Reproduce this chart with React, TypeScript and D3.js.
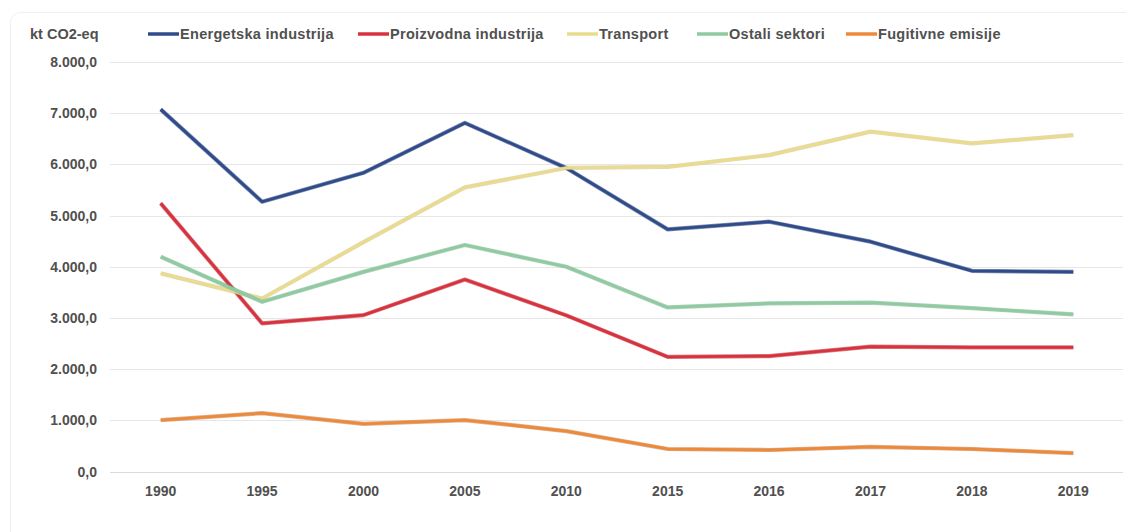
import React, { useRef, useEffect } from 'react';
import * as d3 from 'd3';

const years = ['1990', '1995', '2000', '2005', '2010', '2015', '2016', '2017', '2018', '2019'];

const energetska = [7075, 5270, 5835, 6810, 5930, 4730, 4880, 4490, 3920, 3900];
const proizvodna = [5240, 2895, 3055, 3750, 3050, 2240, 2255, 2440, 2425, 2425];
const transport = [3870, 3380, 4480, 5550, 5930, 5950, 6180, 6640, 6410, 6570];
const ostali = [4195, 3315, 3900, 4425, 4000, 3205, 3285, 3300, 3190, 3070];
const fugitivne = [1005, 1140, 930, 1005, 790, 440, 420, 480, 440, 360];

const seriesNames = ['Energetska industrija', 'Proizvodna industrija', 'Transport', 'Ostali sektori', 'Fugitivne emisije'];
const yTicks = [0, 1000, 2000, 3000, 4000, 5000, 6000, 7000, 8000];
const unitLabel = 'kt CO2-eq';

const colors = ['#2f4b8a', '#d8323f', '#e9dc8e', '#8fcaa2', '#ec8a3c'];
const edgeColors = ['#27407a', '#c02a36', '#d4c07e', '#78b48c', '#c97c45'];

const W = 1126;
const H = 532;

const fmt = (v: number) => {
  const s = d3.format(',.1f')(v);
  return s.replace(/,/g, '#').replace('.', ',').replace(/#/g, '.');
};

const App: React.FC = () => {
  const svgRef = useRef<SVGSVGElement | null>(null);

  useEffect(() => {
    document.body.style.margin = '0';
    if (!svgRef.current) return;
    const svg = d3.select(svgRef.current);
    svg.selectAll('*').remove();

    const font = '"Liberation Sans", Arial, sans-serif';
    const textFill = '#505050';

    // card
    svg.append('rect')
      .attr('x', 10.5).attr('y', 12.5)
      .attr('width', 1140).attr('height', 540)
      .attr('rx', 10)
      .attr('fill', '#fff')
      .attr('stroke', '#eef0f0');

    const x = d3.scaleBand().domain(years).range([110, 1124]).padding(0);
    const y = d3.scaleLinear().domain([0, 8000]).range([471.5, 62]);

    // grid
    svg.append('g').selectAll('line')
      .data(yTicks)
      .enter()
      .append('line')
      .attr('x1', 110).attr('x2', 1123)
      .attr('y1', d => Math.round(y(d)) + 0.5)
      .attr('y2', d => Math.round(y(d)) + 0.5)
      .attr('stroke', d => (d === 0 ? '#dcdcdc' : '#e6e6e6'))
      .attr('stroke-width', 1);

    // y labels
    svg.append('g').selectAll('text')
      .data(yTicks)
      .enter()
      .append('text')
      .attr('x', 97)
      .attr('y', d => y(d) + 5)
      .attr('text-anchor', 'end')
      .attr('font-family', font)
      .attr('font-size', 14)
      .attr('font-weight', 600)
      .attr('fill', textFill)
      .text(d => fmt(d));

    // x labels
    svg.append('g').selectAll('text')
      .data(years)
      .enter()
      .append('text')
      .attr('x', d => (x(d) || 0) + x.bandwidth() / 2)
      .attr('y', 496)
      .attr('text-anchor', 'middle')
      .attr('font-family', font)
      .attr('font-size', 14)
      .attr('font-weight', 600)
      .attr('fill', textFill)
      .text(d => d);

    const allSeries = [energetska, proizvodna, transport, ostali, fugitivne];

    const line = d3.line<number>()
      .x((_, i) => (x(years[i]) || 0) + x.bandwidth() / 2)
      .y(d => y(d));

    allSeries.forEach((vals, i) => {
      svg.append('path')
        .datum(vals)
        .attr('d', line)
        .attr('fill', 'none')
        .attr('stroke', edgeColors[i])
        .attr('stroke-width', 4.2)
        .attr('stroke-opacity', 0.6)
        .attr('stroke-linejoin', 'round');
      svg.append('path')
        .datum(vals)
        .attr('d', line)
        .attr('fill', 'none')
        .attr('stroke', colors[i])
        .attr('stroke-width', 2.8)
        .attr('stroke-linejoin', 'round');
    });

    // unit label
    svg.append('text')
      .attr('x', 30).attr('y', 39)
      .attr('font-family', font)
      .attr('font-size', 14.5)
      .attr('font-weight', 600)
      .attr('fill', textFill)
      .text(unitLabel);

    // legend
    const legendX = [148, 358, 567, 697, 846];
    const lg = svg.append('g').selectAll('g')
      .data(seriesNames)
      .enter()
      .append('g')
      .attr('transform', (_, i) => `translate(${legendX[i]},34)`);
    lg.append('line')
      .attr('x1', 0).attr('x2', 31)
      .attr('y1', 0).attr('y2', 0)
      .attr('stroke', (_, i) => colors[i])
      .attr('stroke-width', 3.5);
    lg.append('text')
      .attr('x', 32).attr('y', 5)
      .attr('font-family', font)
      .attr('font-size', 14.5)
      .attr('font-weight', 600)
      .attr('letter-spacing', 0.3)
      .attr('fill', textFill)
      .text(d => d);
  }, []);

  return <svg ref={svgRef} width={W} height={H} style={{ display: 'block' }}></svg>;
};

export default App;
